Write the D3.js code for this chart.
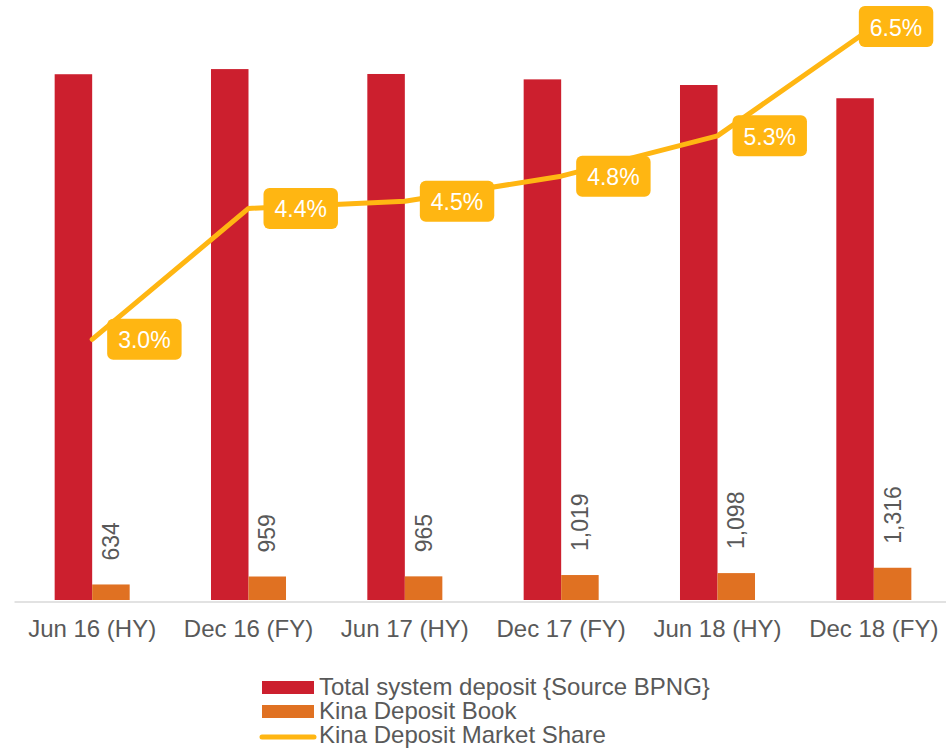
<!DOCTYPE html>
<html>
<head>
<meta charset="utf-8">
<script src="https://cdn.jsdelivr.net/npm/d3@7"></script>
<style>
  body { margin: 0; background: #fff; }
  text { font-family: "Liberation Sans", Arial, sans-serif; }
</style>
</head>
<body>
<div id="chart"></div>
<script>
// Data
const categories = ["Jun 16 (HY)", "Dec 16 (FY)", "Jun 17 (HY)", "Dec 17 (FY)", "Jun 18 (HY)", "Dec 18 (FY)"];
const totalDeposit = [21460, 21670, 21470, 21250, 21020, 20480];   // Total system deposit {Source BPNG}
const kinaDeposit = [634, 959, 965, 1019, 1098, 1316];             // Kina Deposit Book
const marketShare = [2.98, 4.44, 4.52, 4.80, 5.25, 6.47];          // Kina Deposit Market Share (%)
const seriesNames = ["Total system deposit {Source BPNG}", "Kina Deposit Book", "Kina Deposit Market Share"];

const width = 946, height = 748;
const colors = {total: "#cc1f2e", kina: "#e07122", share: "#ffb612"};
const textGrey = "#595959";

const svg = d3.select("#chart")
              .append("svg")
              .attr("width", width)
              .attr("height", height);

// Scales
const x = d3.scaleBand()
            .domain(categories)
            .range([14, 952]);

const xSub = d3.scaleBand()
               .domain(["total", "kina"])
               .range([0, x.bandwidth()])
               .paddingInner(0)
               .paddingOuter(1.084);

const y = d3.scaleLinear()
            .domain([0, 24000])
            .range([600, 12]);

const yShare = d3.scaleLinear()
                 .domain([0, 7])
                 .range([606.4, -21]);

// Bars
const barData = categories.map((c, i) => ({cat: c, total: totalDeposit[i], kina: kinaDeposit[i]}));

svg.append("g")
   .selectAll("rect")
   .data(barData)
   .enter()
   .append("rect")
   .attr("x", d => x(d.cat) + xSub("total"))
   .attr("y", d => y(d.total))
   .attr("width", xSub.bandwidth())
   .attr("height", d => y(0) - y(d.total))
   .attr("fill", colors.total);

svg.append("g")
   .selectAll("rect")
   .data(barData)
   .enter()
   .append("rect")
   .attr("x", d => x(d.cat) + xSub("kina"))
   .attr("y", d => y(d.kina))
   .attr("width", xSub.bandwidth())
   .attr("height", d => y(0) - y(d.kina))
   .attr("fill", colors.kina);

// Rotated value labels above the kina bars
const fmt = d3.format(",");
svg.append("g")
   .selectAll("text")
   .data(barData)
   .enter()
   .append("text")
   .attr("transform", d => {
       const cx = x(d.cat) + xSub("kina") + xSub.bandwidth() / 2;
       return `translate(${cx + 8},${y(d.kina) - 24}) rotate(-90)`;
   })
   .attr("font-size", 23)
   .attr("fill", textGrey)
   .text(d => fmt(d.kina));

// X axis
const xAxis = svg.append("g")
                 .attr("transform", `translate(0,601.5)`)
                 .call(d3.axisBottom(x).tickSize(0).tickPadding(18));
xAxis.select(".domain").attr("stroke", "#d9d9d9").attr("stroke-width", 1.5);
xAxis.selectAll("text")
     .attr("font-size", 24)
     .attr("font-family", "Liberation Sans, Arial, sans-serif")
     .attr("fill", textGrey);

// Market share line
const cx = d => x(d.cat) + x.bandwidth() / 2;
const lineData = categories.map((c, i) => ({cat: c, v: marketShare[i]}));
const line = d3.line()
               .x(cx)
               .y(d => yShare(d.v));

svg.append("path")
   .datum(lineData)
   .attr("d", line)
   .attr("fill", "none")
   .attr("stroke", colors.share)
   .attr("stroke-width", 5)
   .attr("stroke-linejoin", "round")
   .attr("stroke-linecap", "round");

// Share labels in rounded boxes
const lab = svg.append("g")
               .selectAll("g")
               .data(lineData)
               .enter()
               .append("g");

lab.each(function(d) {
    const g = d3.select(this);
    const t = g.append("text")
               .attr("font-size", 23)
               .attr("fill", "#fff")
               .attr("dominant-baseline", "central")
               .text(d3.format(".1f")(d.v) + "%");
    const tw = t.node().getComputedTextLength();
    const w = tw + 22, h = 41;
    const px = cx(d), py = yShare(d.v);
    let bx = px + 15;
    if (bx + w > 940) bx = px - 15;
    g.insert("rect", "text")
     .attr("x", bx)
     .attr("y", py - h / 2)
     .attr("width", w)
     .attr("height", h)
     .attr("rx", 6)
     .attr("fill", colors.share);
    t.attr("x", bx + 11).attr("y", py + 1);
});

// Legend
const legend = svg.append("g").attr("transform", "translate(262,0)");
const legendRows = [
    {name: seriesNames[0], color: colors.total, type: "rect", y: 687},
    {name: seriesNames[1], color: colors.kina, type: "rect", y: 711},
    {name: seriesNames[2], color: colors.share, type: "line", y: 735}
];
legendRows.forEach(r => {
    if (r.type === "rect") {
        legend.append("rect")
              .attr("x", 0)
              .attr("y", r.y - 6)
              .attr("width", 52)
              .attr("height", 13)
              .attr("fill", r.color);
    } else {
        legend.append("line")
              .attr("x1", 0).attr("x2", 52)
              .attr("y1", r.y + 2).attr("y2", r.y + 2)
              .attr("stroke", r.color)
              .attr("stroke-width", 5)
              .attr("stroke-linecap", "round");
    }
    legend.append("text")
          .attr("x", 57)
          .attr("y", r.y + 8)
          .attr("font-size", 24)
          .attr("fill", textGrey)
          .text(r.name);
});
</script>
</body>
</html>
